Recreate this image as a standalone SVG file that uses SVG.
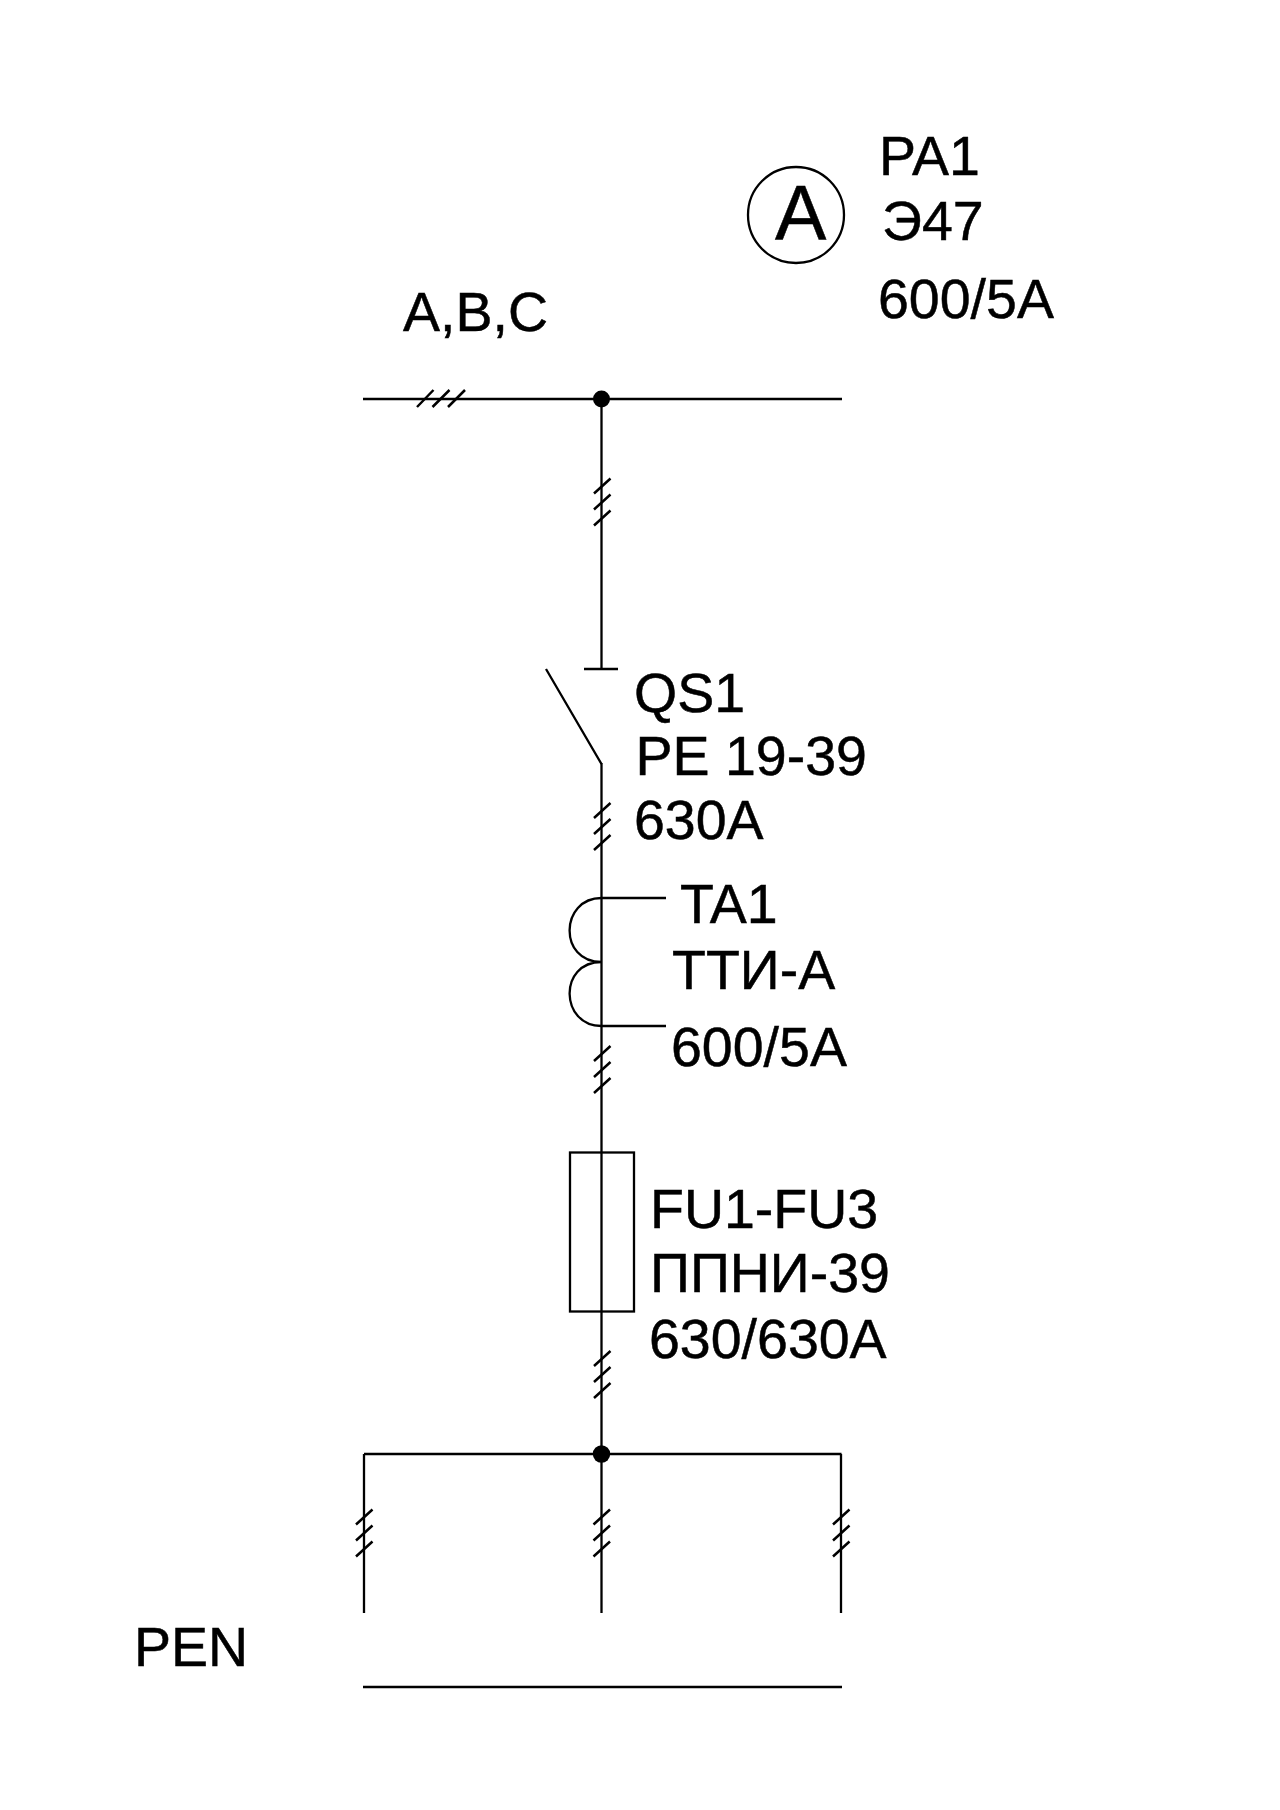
<svg xmlns="http://www.w3.org/2000/svg" width="1280" height="1810" viewBox="0 0 1280 1810">
<style>
text{font-family:"Liberation Sans",Arial,sans-serif;font-size:55.500px;fill:#000;stroke:#000;stroke-width:.5px}
.w{fill:none;stroke:#000;stroke-width:2.300}
.t{fill:none;stroke:#000;stroke-width:2.500}
.d{fill:#000}
</style>
<defs>
<path id="vt" class="t" d="M-8 16L8.500 1M-8 32L8.500 17M-8 48L8.500 33"/>
</defs>
<rect width="1280" height="1810" fill="#fff"/>
<g id="connectors">
<path class="w" d="M363 399H842"/>
<path class="w" d="M601.500 399V669"/>
<path class="w" d="M601.500 763V1613"/>
<path class="w" d="M364 1454H841.500M364 1454V1613M841 1454V1613"/>
<path class="w" d="M363 1687H842"/>
<path class="t" d="M417 407L433.500 390M432.500 407L449.500 390M448 407L465 390"/>
<use href="#vt" x="602" y="477.500"/>
<use href="#vt" x="602" y="802"/>
<use href="#vt" x="602" y="1045"/>
<use href="#vt" x="602" y="1350"/>
<use href="#vt" x="364" y="1508.500"/>
<use href="#vt" x="601.500" y="1508.500"/>
<use href="#vt" x="841" y="1508.500"/>
</g>
<g id="bus-junction"><circle class="d" cx="601.500" cy="399" r="8.500"/></g>
<g id="lower-junction"><circle class="d" cx="601.500" cy="1454" r="8.700"/></g>
<g id="PA1">
<circle class="w" cx="796" cy="215" r="48"/>
<text x="775" y="240" style="font-size:77px">A</text>
<text x="879" y="174.500">PA1</text>
<text x="882" y="240">Э47</text>
<text x="878" y="318">600/5A</text>
</g>
<g id="phases"><text x="403" y="331">A,B,C</text></g>
<g id="QS1">
<path class="w" d="M584 669H618M546 669L601.500 764"/>
<text x="634" y="711.500">QS1</text>
<text x="635.500" y="775">PE 19-39</text>
<text x="634" y="838.500">630A</text>
</g>
<g id="TA1">
<path class="w" d="M601.500 898H666M601.500 1026H666"/>
<path class="w" d="M601.500 898C560 898 558 962 601.500 962C558 962 560 1026 601.500 1026"/>
<text x="680" y="923">TA1</text>
<text x="672" y="989">ТТИ-А</text>
<text x="671" y="1065.500">600/5A</text>
</g>
<g id="FU1-FU3">
<rect class="w" x="570" y="1152.500" width="64" height="159"/>
<text x="650" y="1228">FU1-FU3</text>
<text x="650" y="1291.500">ППНИ-39</text>
<text x="649" y="1358">630/630A</text>
</g>
<g id="PEN"><text x="134" y="1666">PEN</text></g>
</svg>
